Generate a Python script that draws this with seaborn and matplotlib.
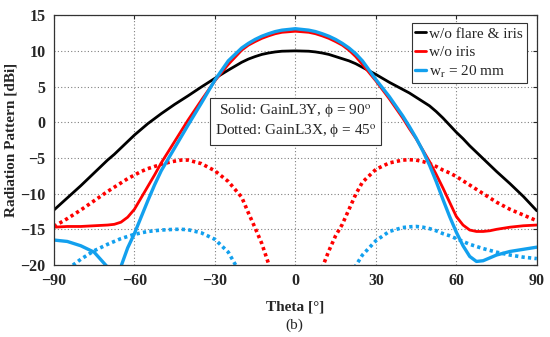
import numpy as np
import pandas as pd
import matplotlib
matplotlib.use("Agg")
import matplotlib.pyplot as plt
import seaborn as sns

theta = [-90, -85, -80, -75, -70, -67.5, -65, -62.5, -60, -57.5, -55, -52.5, -50,
         -47.5, -45, -42.5, -40, -35, -30, -25, -20, -17.5, -15, -12.5, -10, -7.5,
         -5, 0, 5, 7.5, 10, 12.5, 15, 17.5, 20, 22.5, 25, 30, 35, 40, 42.5, 45,
         47.5, 50, 52.5, 55, 57.5, 60, 62.5, 65, 67.5, 70, 72.5, 75, 80, 85, 90]

# Solid: GainL3Y, phi = 90
black_solid = [-12.3, -10.6, -8.9, -7.1, -5.3, -4.5, -3.6, -2.7, -1.8, -1.0, -0.2, 0.5, 1.2,
               1.85, 2.5, 3.1, 3.7, 4.95, 6.15, 7.3, 8.4, 8.85, 9.2, 9.5, 9.7, 9.85,
               9.95, 10.0, 9.95, 9.85, 9.7, 9.5, 9.2, 8.9, 8.6, 8.2, 7.7, 6.7, 5.6, 4.6, 4.1, 3.5,
               2.9, 2.3, 1.5, 0.6, -0.4, -1.4, -2.3, -3.3, -4.2, -5.1, -6.0, -6.9, -8.6, -10.4, -12.4]
red_solid = [-14.7, -14.6, -14.6, -14.5, -14.4, -14.3, -14.0, -13.3, -12.2, -10.6, -9.0, -7.4, -5.7,
             -4.2, -2.7, -1.2, 0.3, 3.1, 5.8, 8.1, 10.1, 10.8, 11.3, 11.75, 12.1, 12.4,
             12.6, 12.75, 12.6, 12.4, 12.1, 11.75, 11.3, 10.8, 10.1, 9.2, 8.1, 5.8, 3.3, 0.6, -0.9, -2.3,
             -3.9, -5.5, -7.3, -9.2, -11.2, -13.2, -14.4, -15.1, -15.3, -15.3, -15.2, -15.0, -14.7, -14.5, -14.4]
blue_solid = [-16.5, -16.7, -17.3, -18.2, -20.3, -23.0, -20.2, -17.6, -15.6, -13.3, -11.0, -8.8, -6.8,
              -5.2, -3.6, -2.0, -0.4, 2.7, 5.9, 8.6, 10.4, 11.05, 11.6, 12.05, 12.4, 12.7,
              12.9, 13.1, 12.9, 12.7, 12.4, 12.05, 11.6, 11.05, 10.4, 9.6, 8.6, 6.0, 3.6, 0.9, -0.6, -2.2,
              -4.0, -6.0, -8.3, -10.8, -13.2, -15.4, -17.3, -18.8, -19.5, -19.4, -19.0, -18.6, -18.1, -17.8, -17.5]

# Dotted: GainL3X, phi = 45
red_dotted = [-14.6, -13.5, -12.3, -11.0, -9.7, -9.1, -8.5, -7.9, -7.4, -6.9, -6.5, -6.2, -5.9,
              -5.65, -5.45, -5.3, -5.3, -5.8, -6.8, -8.3, -10.5, -12.7, -14.8, -17.0, -19.8, -24.0,
              -30.0, -40.0, -28.0, -23.5, -20.4, -18.0, -15.9, -14.3, -12.2, -10.1, -8.4, -6.6, -5.7, -5.3, -5.25, -5.3,
              -5.5, -5.8, -6.2, -6.7, -7.1, -7.6, -8.2, -8.8, -9.4, -10.0, -10.6, -11.2, -12.2, -13.0, -13.8]
blue_dotted = [-22.5, -20.6, -19.2, -18.0, -17.1, -16.7, -16.3, -16.0, -15.7, -15.5, -15.3, -15.2, -15.1,
               -15.05, -15.0, -15.0, -15.05, -15.5, -16.4, -18.2, -21.5, -24.0, -28.0, -32.0, -36.0, -40.0,
               -42.0, -45.0, -38.0, -33.0, -30.0, -28.5, -27.0, -24.0, -21.8, -20.1, -18.6, -16.6, -15.3, -14.75, -14.65, -14.6,
               -14.7, -14.9, -15.2, -15.6, -15.9, -16.3, -16.7, -17.1, -17.4, -17.7, -17.95, -18.2, -18.6, -18.9, -19.1]

legend_labels = ["w/o flare & iris", "w/o iris", "w$_\\mathrm{r}$ = 20 mm"]
colors = ["#000000", "#ff0000", "#12a0ee"]

df = pd.DataFrame({"theta": theta,
                   "black_solid": black_solid, "red_solid": red_solid, "blue_solid": blue_solid,
                   "red_dotted": red_dotted, "blue_dotted": blue_dotted})

sns.set_style("white")
plt.rcParams["font.family"] = ["Liberation Serif", "DejaVu Serif"]
plt.rcParams["mathtext.fontset"] = "stix"

fig = plt.figure(figsize=(5.5, 3.37), dpi=100)
ax = fig.add_axes([0.098, 0.2136, 0.878, 0.7414])

# dotted curves first (behind the solid ones)
sns.lineplot(data=df, x="theta", y="red_dotted", ax=ax, color=colors[1], lw=2.6,
             linestyle=(0, (0.9, 0.9)), dash_capstyle="butt")
sns.lineplot(data=df, x="theta", y="blue_dotted", ax=ax, color=colors[2], lw=2.6,
             linestyle=(0, (0.9, 0.9)), dash_capstyle="butt")

h1 = sns.lineplot(data=df, x="theta", y="black_solid", ax=ax, color=colors[0], lw=2.0).lines[-1]
h2 = sns.lineplot(data=df, x="theta", y="red_solid", ax=ax, color=colors[1], lw=2.0).lines[-1]
h3 = sns.lineplot(data=df, x="theta", y="blue_solid", ax=ax, color=colors[2], lw=2.4).lines[-1]

ax.set_xlim(-90, 90)
ax.set_ylim(-20, 15)
ax.set_xticks([-90, -60, -30, 0, 30, 60, 90])
ax.set_yticks([-20, -15, -10, -5, 0, 5, 10, 15])
ax.grid(True, linestyle=(0, (1, 2)), color="#808080", lw=0.8)
ax.tick_params(direction="in", length=3, labelsize=11.5, pad=6, top=True, right=True)
for lab in ax.get_xticklabels() + ax.get_yticklabels():
    lab.set_fontweight("bold")
for sp in ax.spines.values():
    sp.set_color("#333333")
    sp.set_linewidth(0.9)

ax.set_xlabel("Theta [\u00b0]", fontsize=11, fontweight="bold", labelpad=8)
ax.set_ylabel("Radiation Pattern [dBi]", fontsize=11, fontweight="bold", labelpad=2)
fig.text(0.536, 0.035, "(b)", ha="center", va="center", fontsize=11)

leg = ax.legend([h1, h2, h3], legend_labels, loc="upper right", bbox_to_anchor=(0.979, 0.968),
                borderaxespad=0, fontsize=11, handlelength=0.7, handletextpad=0.2, labelspacing=0.3,
                borderpad=0.25, fancybox=False, framealpha=1, edgecolor="#333333")
leg.get_frame().set_linewidth(0.8)

ax.text(0, 0.1, "Solid: GainL3Y, \u03d5 = 90$^\\mathrm{o}$\nDotted: GainL3X, \u03d5 = 45$^\\mathrm{o}$",
        ha="center", va="center", fontsize=11, linespacing=1.2,
        bbox=dict(facecolor="white", edgecolor="#333333", lw=0.8, boxstyle="square,pad=0.3"))

fig.savefig("out.png", dpi=100)
